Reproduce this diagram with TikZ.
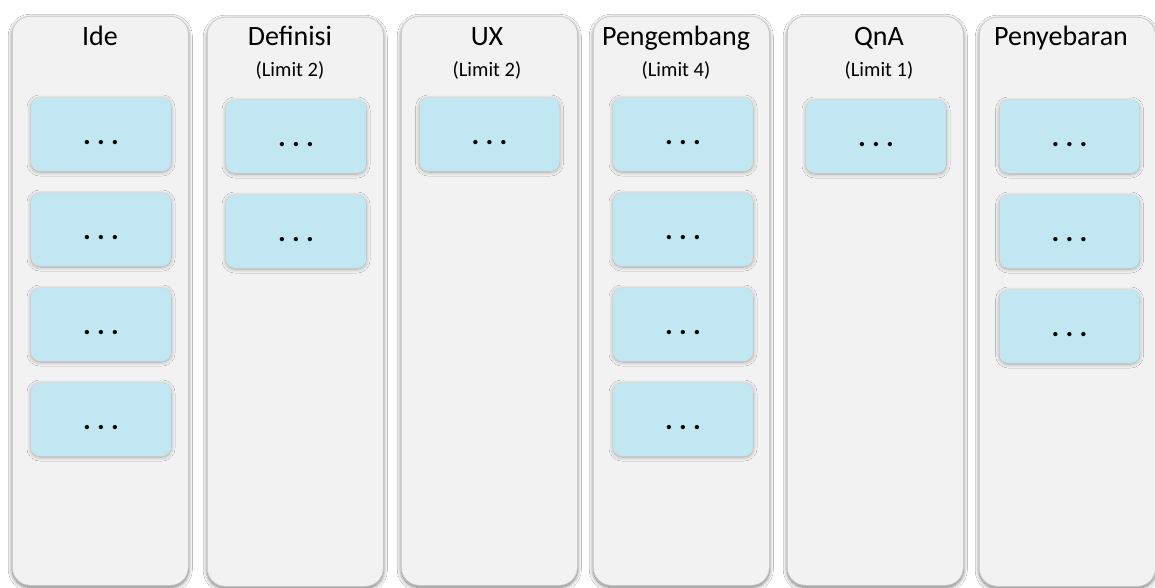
\documentclass[tikz,border=0pt]{standalone}
\usepackage{fontspec}
\setmainfont{Carlito}
\usetikzlibrary{shadows.blur}
\definecolor{colfill}{HTML}{F2F2F2}
\definecolor{coledge}{HTML}{CACACA}
\definecolor{cardfill}{HTML}{C1E8F2}
\tikzset{
  column/.style={rectangle, anchor=north west, inner sep=0pt, minimum width=176pt, minimum height=569pt,
    rounded corners=18pt, fill=colfill, draw=coledge, line width=0.6pt,
    blur shadow={shadow xshift=0pt, shadow yshift=-2pt, shadow blur radius=4pt, shadow blur steps=14, shadow opacity=55}},
  card/.style={rectangle, inner sep=0pt, minimum width=140pt, minimum height=73pt,
    rounded corners=9pt, fill=cardfill,
    blur shadow={shadow xshift=0pt, shadow yshift=-1pt, shadow blur radius=4pt, shadow blur steps=14, shadow opacity=32},
    font=\fontsize{29}{32}\selectfont, text height=20pt, text depth=0pt},
  title/.style={anchor=base, inner sep=0pt, font=\fontsize{28}{32}\selectfont},
  sub/.style={anchor=base, inner sep=0pt, font=\fontsize{20.5}{24}\selectfont}
}
\newcommand{\dotsrow}{\makebox[14pt]{\textbf{.}}\makebox[14pt]{\textbf{.}}\makebox[14pt]{\textbf{.}}}
\begin{document}
\begin{tikzpicture}[x=1pt,y=-1pt]
\useasboundingbox[fill=white] (0,0) rectangle (1155,588);
% columns
\node[column] (c1) at (12,16) {};
\node[column] (c2) at (207,17) {};
\node[column] (c3) at (401,16) {};
\node[column] (c4) at (593,16) {};
\node[column] (c5) at (787,16) {};
\node[column] (c6) at (979,17) {};
% titles
\node[title] (t1) at (100,46) {Ide};
\node[title] (t2) at (290,46) {Definisi};
\node[sub] (s2) at (290,77) {(Limit 2)};
\node[title] (t3) at (487,46) {UX};
\node[sub] (s3) at (487,77) {(Limit 2)};
\node[title] (t4) at (676,46) {Pengembang};
\node[sub] (s4) at (676,77) {(Limit 4)};
\node[title] (t5) at (879,46) {QnA};
\node[sub] (s5) at (879,77) {(Limit 1)};
\node[title] (t6) at (1061,46) {Penyebaran};
% cards
\node[card] (a1) at (101,134.5) {\dotsrow};
\node[card] (a2) at (101,229.5) {\dotsrow};
\node[card] (a3) at (101,324.5) {\dotsrow};
\node[card] (a4) at (101,419.5) {\dotsrow};
\node[card] (b1) at (296,136.5) {\dotsrow};
\node[card] (b2) at (296,231.5) {\dotsrow};
\node[card] (u1) at (489.5,134.5) {\dotsrow};
\node[card] (p1) at (683,134.5) {\dotsrow};
\node[card] (p2) at (683,229.5) {\dotsrow};
\node[card] (p3) at (683,324.5) {\dotsrow};
\node[card] (p4) at (683,419.5) {\dotsrow};
\node[card] (q1) at (876,136.5) {\dotsrow};
\node[card] (d1) at (1069.5,136.5) {\dotsrow};
\node[card] (d2) at (1069.5,231.5) {\dotsrow};
\node[card] (d3) at (1069.5,326.5) {\dotsrow};
\end{tikzpicture}
\end{document}
